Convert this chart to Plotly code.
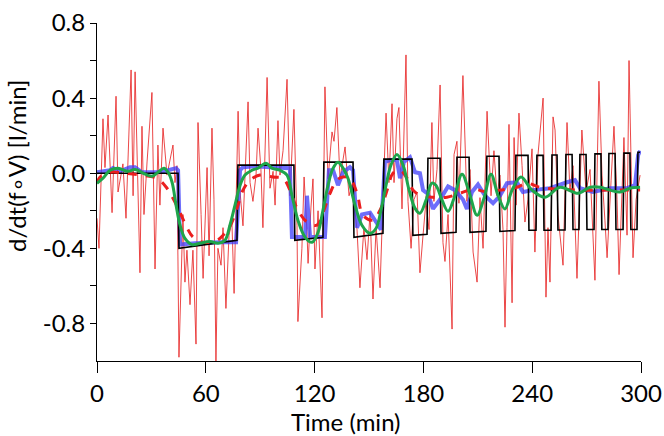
import plotly.graph_objects as go

# ---- data ----
# raw noisy derivative (thin red)
red_t = [0.0,1.1,3.3,4.4,6.1,8.3,10.5,11.6,14.3,16.0,18.8,19.9,21.0,23.7,24.8,25.9,27.6,30.3,32.0,33.6,
         34.7,36.4,38.6,41.9,43.0,44.1,45.2,47.4,48.5,49.6,51.3,52.9,54.6,55.7,57.4,58.5,60.7,61.8,63.4,64.5,
         65.6,66.7,68.4,69.5,71.1,72.8,74.4,75.6,77.8,78.9,80.5,82.2,83.3,84.4,86.0,87.7,88.8,90.4,91.5,93.8,
         95.4,97.1,98.2,99.8,100.9,102.6,104.8,106.4,108.6,110.3,110.8,113.0,114.2,115.8,116.4,118.0,119.1,120.2,121.9,124.1,
         125.7,127.4,129.6,130.7,132.3,134.0,136.8,139.0,140.6,143.4,145.0,147.2,148.9,150.6,152.2,153.9,155.0,156.1,157.7,159.4,
         161.0,162.7,163.8,165.4,166.5,168.2,170.4,171.5,173.2,174.8,176.5,178.1,179.8,181.4,183.1,184.7,185.8,187.5,189.2,190.8,
         191.9,193.6,195.8,196.9,198.5,199.6,201.8,204.0,205.7,207.4,209.6,211.2,212.9,215.1,217.3,218.9,220.6,222.2,223.9,225.0,
         226.1,227.2,228.9,230.0,231.1,232.7,234.4,236.0,237.7,239.9,241.5,243.2,246.0,247.6,248.7,249.8,251.5,252.6,254.2,257.0,
         259.2,260.8,262.5,264.7,267.4,269.7,271.9,274.6,276.8,278.5,280.1,281.3,283.5,285.1,286.8,287.9,290.6,292.3,293.4,295.6,
         297.3,299.5]
red_v = [-0.24,-0.40,0.29,0.03,0.31,-0.21,0.41,-0.10,0.05,-0.24,0.55,-0.12,0.54,-0.53,0.25,-0.22,0.06,0.43,-0.51,0.15,
         -0.17,0.24,-0.01,0.15,-0.05,0.04,-0.98,-0.22,-0.58,-0.41,-0.70,-0.41,-0.91,0.27,-0.22,-0.56,0.03,-0.44,0.24,-0.14,
         -1.00,-0.40,-0.49,-0.29,-0.72,-0.33,-0.26,-0.64,0.33,-0.10,-0.28,0.13,0.38,-0.05,-0.15,-0.01,0.24,0.02,-0.29,0.51,
         -0.08,0.01,-0.17,0.28,-0.01,0.12,0.50,-0.12,0.34,-0.28,-0.79,-0.40,-0.02,-0.31,-0.48,-0.18,-0.03,-0.51,-0.20,-0.77,
         0.46,-0.03,0.22,0.17,0.35,-0.03,0.14,-0.12,-0.06,-0.30,-0.61,-0.29,-0.46,-0.21,-0.67,-0.29,-0.46,-0.61,-0.14,0.32,
         -0.05,0.37,-0.05,0.29,0.35,-0.19,0.63,-0.15,-0.40,-0.14,-0.10,-0.53,-0.33,-0.15,-0.30,0.27,-0.15,0.02,0.47,-0.37,
         -0.47,-0.22,-0.83,0.10,0.17,-0.16,0.52,-0.15,0.02,-0.42,-0.58,-0.13,-0.40,0.33,-0.12,0.12,-0.12,-0.01,-0.30,-0.82,
         -0.29,0.26,-0.69,0.19,-0.17,0.32,0.04,-0.26,-0.14,0.13,-0.42,0.10,0.40,-0.66,-0.29,-0.58,0.30,0.23,-0.22,-0.49,
         0.27,-0.09,0.04,-0.56,0.23,-0.10,0.02,-0.57,0.49,-0.01,-0.25,-0.45,-0.04,0.25,-0.14,-0.54,0.19,-0.33,0.60,-0.45,
         -0.14,-0.01]

# true input signal (black square wave)
sq_t = [0,44.7,45.2,77.2,77.7,108.6,109.1,124.6,125.1,141.2,141.7,157.7,158.2,173.7,174.2,182.0,182.5,189.2,189.7,198.0,
        198.5,205.2,205.7,214.5,215.0,221.7,222.2,230.5,231.0,237.7,238.2,242.1,242.6,246.0,246.5,250.4,250.9,253.7,254.2,258.1,
        258.6,262.0,262.5,265.8,266.3,269.7,270.2,274.1,274.6,277.9,278.4,281.8,282.3,285.7,286.2,290.1,290.6,293.9,294.4,297.8,
        298.3,299.5]
sq_v = [0.0,0.0,-0.40,-0.357,0.043,0.043,-0.357,-0.341,0.059,0.059,-0.341,-0.32,0.075,0.075,-0.331,-0.325,0.08,0.08,-0.32,-0.315,
        0.085,0.085,-0.315,-0.309,0.09,0.09,-0.31,-0.305,0.095,0.095,-0.304,-0.304,0.095,0.095,-0.304,-0.304,0.097,0.097,-0.302,-0.302,
        0.1,0.1,-0.3,-0.3,0.1,0.1,-0.3,-0.3,0.103,0.103,-0.3,-0.3,0.105,0.105,-0.3,-0.3,0.107,0.107,-0.3,-0.3,
        0.112,0.112]

# stepwise estimate (blue)
blue_t = [0,7.2,8.8,12.7,18.2,21.0,24.8,33.1,39.2,43.6,44.7,45.8,54.0,62.3,67.8,76.7,78.9,80.5,87.1,95.4,
          103.7,106.4,107.5,114.7,115.8,117.5,125.7,127.9,130.2,132.9,135.7,139.5,141.2,143.4,146.1,150.6,153.9,156.6,158.8,161.6,
          165.4,167.1,169.3,172.6,175.4,178.1,179.8,182.5,185.3,189.2,193.6,197.4,201.8,204.0,206.8,210.1,214.0,218.4,222.2,226.1,
          231.6,234.9,240.4,249.8,259.2,263.6,266.4,273.5,282.9,292.3,296.7,298.4,299.5]
blue_v = [0.005,0.016,0.027,0.01,0.032,0.032,0.005,0.005,0.016,0.027,0.016,-0.38,-0.373,-0.368,-0.368,-0.368,0.016,0.032,0.037,0.032,
          0.032,0.027,-0.34,-0.34,-0.12,-0.34,-0.34,0.016,0.016,-0.064,0.005,0.032,0.016,-0.29,-0.22,-0.21,-0.26,-0.30,0.06,0.07,
          0.07,-0.027,0.06,0.085,0.005,0.0,-0.09,-0.11,-0.19,-0.14,-0.07,-0.09,-0.14,-0.19,-0.10,-0.06,-0.12,-0.16,-0.12,-0.053,
          -0.048,-0.10,-0.09,-0.08,-0.048,-0.037,-0.08,-0.10,-0.08,-0.08,-0.064,0.096,0.12]

# smooth estimate (red dashed)
rd_t = [0,1.7,7.2,15.4,23.7,33.1,38.6,41.9,45.8,49.6,52.9,58.5,66.2,69.5,73.3,77.2,80.5,84.4,89.9,97.1,
        102.6,106.4,110.3,115.8,121.3,124.6,128.5,132.3,135.7,139.5,143.4,146.7,152.2,156.1,160.5,163.2,167.1,171.0,174.3,178.1,
        185.3,193.0,200.2,207.4,215.1,222.2,231.6,237.1,244.3,255.3,268.0,282.9,299.5]
rd_v = [-0.053,-0.02,0.005,0.0,-0.01,-0.027,-0.08,-0.133,-0.21,-0.29,-0.34,-0.368,-0.357,-0.33,-0.283,-0.187,-0.09,-0.037,-0.01,-0.02,
        -0.027,-0.09,-0.187,-0.26,-0.277,-0.21,-0.107,-0.037,-0.02,-0.027,-0.107,-0.224,-0.25,-0.197,-0.075,0.0,0.016,-0.027,-0.09,-0.117,
        -0.128,-0.128,-0.107,-0.085,-0.10,-0.09,-0.075,-0.053,-0.075,-0.085,-0.09,-0.09,-0.09]

# oscillating estimate (green)
gr_t = [0,3.3,7.2,11.6,17.1,21.0,26.5,30.3,33.6,36.9,39.2,41.4,43.6,45.8,48.5,52.4,56.8,62.3,66.7,70.6,
        73.3,76.1,78.9,81.6,85.5,88.8,93.2,96.5,100.9,104.8,107.5,110.8,114.7,118.6,121.9,124.6,127.4,130.2,132.9,135.7,
        138.4,142.3,146.1,150.6,153.9,156.6,159.4,162.1,165.4,168.8,172.1,175.4,178.1,181.4,184.7,186.9,190.3,193.6,196.9,201.3,
        205.2,209.6,213.4,217.3,221.1,225.0,228.9,233.8,239.9,247.1,255.3,265.3,271.9,277.4,282.9,288.4,293.9,299.5]
gr_v = [-0.053,-0.027,0.016,0.027,0.01,0.02,-0.005,-0.016,0.005,0.027,0.005,-0.048,-0.17,-0.277,-0.347,-0.38,-0.373,-0.363,-0.373,-0.357,
        -0.277,-0.17,-0.064,-0.01,0.016,0.027,0.053,0.027,0.016,-0.01,-0.117,-0.25,-0.34,-0.368,-0.315,-0.197,-0.064,0.027,0.059,0.027,
        -0.027,-0.17,-0.277,-0.32,-0.293,-0.197,-0.064,0.043,0.10,0.043,-0.09,-0.187,-0.213,-0.144,-0.053,-0.064,-0.144,-0.203,-0.133,-0.005,
        -0.10,-0.224,-0.133,-0.005,-0.117,-0.19,-0.09,-0.02,-0.09,-0.128,-0.075,-0.107,-0.075,-0.075,-0.09,-0.10,-0.08,-0.075]

x_ticks = [0, 60, 120, 180, 240, 300]
y_tickvals = [0.8, 0.4, 0.0, -0.4, -0.8]
y_ticktext = ["0.8", "0.4", "0.0", "-0.4", "-0.8"]

FONT = "Lato"

fig = go.Figure()
fig.add_trace(go.Scatter(x=red_t, y=red_v, mode="lines",
                         line=dict(color="rgba(232,40,40,0.85)", width=1)))
fig.add_trace(go.Scatter(x=blue_t, y=blue_v, mode="lines",
                         line=dict(color="rgba(60,60,250,0.75)", width=4)))
fig.add_trace(go.Scatter(x=sq_t, y=sq_v, mode="lines",
                         line=dict(color="black", width=1.6)))
fig.add_trace(go.Scatter(x=rd_t, y=rd_v, mode="lines", line_shape="spline",
                         line=dict(color="rgb(235,30,30)", width=3, dash="dash")))
fig.add_trace(go.Scatter(x=gr_t, y=gr_v, mode="lines", line_shape="spline",
                         line=dict(color="rgb(30,165,75)", width=3)))

fig.update_layout(
    width=664, height=436,
    margin=dict(l=97, r=23, t=23, b=75, autoexpand=False),
    paper_bgcolor="white", plot_bgcolor="white",
    showlegend=False,
    font=dict(family=FONT, size=24, color="black"),
)
fig.update_xaxes(
    range=[0, 300], tickvals=x_ticks, ticks="outside", ticklen=11, tickwidth=1,
    tickcolor="black", showline=True, linecolor="black", linewidth=1,
    showgrid=False, zeroline=False, tickfont=dict(size=24), automargin=False,
)
fig.update_yaxes(
    range=[-1.0, 0.8], tickvals=y_tickvals, ticktext=y_ticktext, ticks="outside",
    ticklen=6, tickwidth=1, tickcolor="black", showline=True, linecolor="black",
    linewidth=1, showgrid=False, zeroline=False, tickfont=dict(size=24), automargin=False,
    minor=dict(tickvals=[0.6, 0.2, -0.2, -0.6], ticks="outside", ticklen=6,
               tickcolor="black", tickwidth=1, showgrid=False),
)
fig.add_annotation(text="Time (min)", xref="paper", yref="paper",
                   x=0.458, y=-0.18, xanchor="center", yanchor="middle",
                   showarrow=False, font=dict(family=FONT, size=24))
fig.add_annotation(text="d/dt(f\u2218V) [l/min]", xref="paper", yref="paper",
                   x=-0.147, y=0.577, xanchor="center", yanchor="middle",
                   textangle=-90, showarrow=False, font=dict(family=FONT, size=24))

fig.write_html("out.html")
